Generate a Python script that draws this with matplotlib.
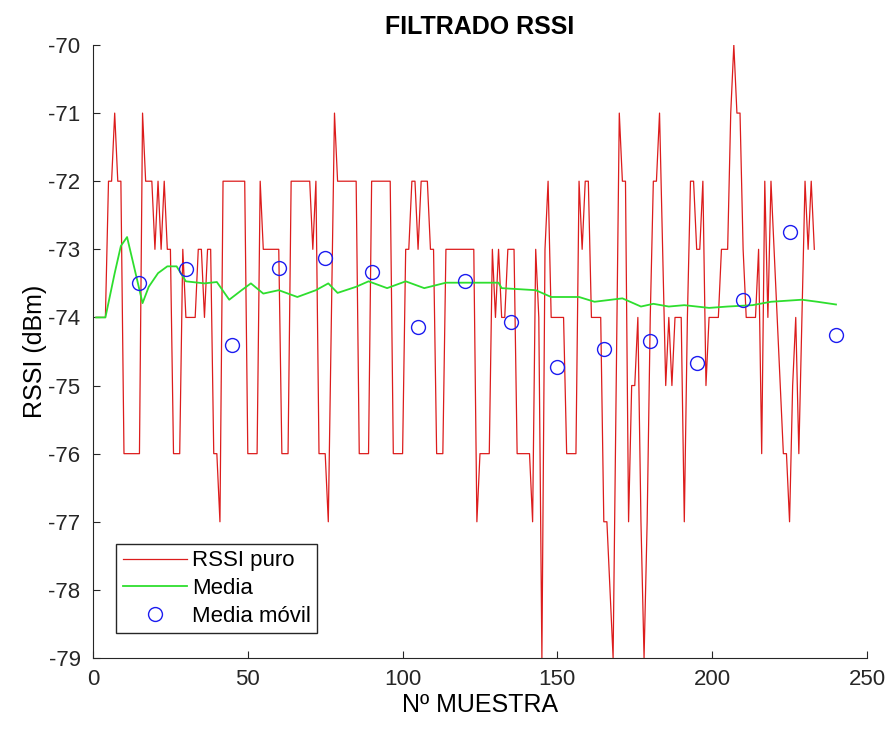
import numpy as np
import matplotlib.pyplot as plt

plt.rcParams['font.family'] = ['Liberation Sans', 'DejaVu Sans']
plt.rcParams['axes.unicode_minus'] = False

# RSSI puro, muestras 1..233
rssi = [
    -74, -74, -74, -74, -72, -72, -71, -72, -72, -76,
    -76, -76, -76, -76, -76, -71, -72, -72, -72, -73,
    -72, -73, -72, -73, -73, -76, -76, -76, -73, -74,
    -74, -74, -74, -73, -73, -74, -73, -73, -76, -76,
    -77, -72, -72, -72, -72, -72, -72, -72, -72, -76,
    -76, -76, -76, -72, -73, -73, -73, -73, -73, -73,
    -76, -76, -76, -72, -72, -72, -72, -72, -72, -72,
    -73, -72, -76, -76, -76, -77, -74, -71, -72, -72,
    -72, -72, -72, -72, -72, -76, -76, -76, -76, -72,
    -72, -72, -72, -72, -72, -72, -76, -76, -76, -76,
    -73, -73, -72, -72, -73, -72, -72, -72, -73, -73,
    -76, -76, -76, -73, -73, -73, -73, -73, -73, -73,
    -73, -73, -73, -77, -76, -76, -76, -76, -73, -74,
    -73, -74, -74, -73, -73, -73, -76, -76, -76, -76,
    -76, -77, -73, -74, -79, -73, -72, -74, -74, -74,
    -74, -74, -76, -76, -76, -76, -72, -73, -72, -72,
    -74, -74, -74, -74, -77, -77, -78, -79, -75, -71,
    -72, -72, -77, -75, -75, -74, -77, -79, -77, -74,
    -72, -72, -71, -73, -75, -74, -75, -74, -74, -74,
    -77, -74, -72, -72, -73, -73, -72, -75, -74, -74,
    -74, -74, -73, -73, -73, -71, -70, -71, -71, -73,
    -74, -74, -74, -74, -73, -76, -72, -74, -72, -73,
    -74, -75, -76, -76, -77, -75, -74, -76, -74, -72,
    -73, -72, -73,
]
muestra = np.arange(1, len(rssi) + 1)

# Media (acumulada)
media_x = [1, 4, 7, 9, 11, 14, 16, 18, 21, 24, 27, 30, 36, 40, 44, 48, 51, 55,
           60, 66, 72, 76, 79, 85, 89, 95, 101, 107, 114, 125, 131, 132, 143,
           148, 157, 162, 171, 177, 181, 186, 191, 199, 205, 213, 219, 229, 234, 240]
media_y = [-74, -74, -73.35, -72.95, -72.82, -73.4, -73.79, -73.55, -73.35, -73.25,
           -73.25, -73.47, -73.5, -73.48, -73.74, -73.6, -73.5, -73.65,
           -73.6, -73.7, -73.6, -73.5, -73.64, -73.55, -73.47, -73.57, -73.47,
           -73.57, -73.49, -73.49, -73.49, -73.57, -73.6, -73.7, -73.7, -73.77,
           -73.72, -73.84, -73.8, -73.84, -73.82, -73.86, -73.84, -73.82, -73.77,
           -73.74, -73.77, -73.81]

# Media movil cada 15 muestras
movil_x = [15, 30, 45, 60, 75, 90, 105, 120, 135, 150, 165, 180, 195, 210, 225, 240]
movil_y = [-73.5, -73.29, -74.4, -73.28, -73.13, -73.34, -74.14, -73.47,
           -74.07, -74.73, -74.47, -74.34, -74.67, -73.74, -72.74, -74.26]

fig = plt.figure(figsize=(8.91, 7.29), dpi=100)
ax = fig.add_axes([0.1044, 0.0974, 0.8686, 0.8409])

ax.plot(muestra, rssi, color='#dc1c1c', linewidth=0.9, label='RSSI puro')
ax.plot(media_x, media_y, color='#2ede2e', linewidth=1.3, label='Media')
ax.plot(movil_x, movil_y, 'o', markerfacecolor='none', markeredgecolor='#1c1cf0',
        markersize=10, markeredgewidth=1.0, label='Media móvil')

ax.set_xlim(0, 250)
ax.set_ylim(-79, -70)
ax.set_xticks([0, 50, 100, 150, 200, 250])
ax.set_yticks(np.arange(-79, -69, 1))
ax.tick_params(direction='in', labelsize=16, length=5, colors='#262626')
ax.tick_params(axis='y', pad=9)
ax.tick_params(axis='x', pad=8)
for s in ['top', 'right']:
    ax.spines[s].set_visible(False)
for s in ['left', 'bottom']:
    ax.spines[s].set_color('#262626')

ax.set_title('FILTRADO RSSI', fontsize=18, fontweight='bold', pad=8)
ax.set_xlabel('Nº MUESTRA', fontsize=18, labelpad=2)
ax.set_ylabel('RSSI (dBm)', fontsize=18, labelpad=1)

leg = ax.legend(loc='lower left', bbox_to_anchor=(0.03, 0.04), fontsize=16,
                fancybox=False, edgecolor='#262626', framealpha=1,
                handlelength=2.9, borderpad=0.3, labelspacing=0.3, handletextpad=0.2,
                borderaxespad=0)
leg.get_frame().set_linewidth(1.0)

plt.savefig('out.png', dpi=100)
